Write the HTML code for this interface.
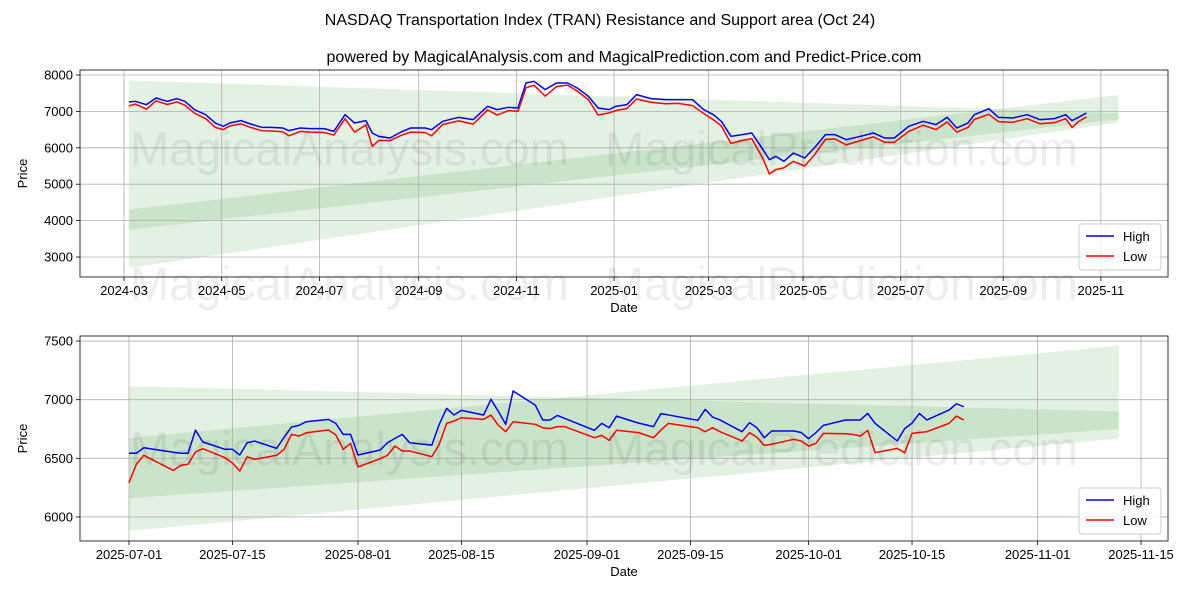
<!DOCTYPE html>
<html><head><meta charset="utf-8"><style>
body{margin:0;background:#fff;}
svg{display:block;font-family:"Liberation Sans","DejaVu Sans",sans-serif;}
</style></head><body>
<svg id="c" width="1200" height="600" viewBox="0 0 1200 600"></svg>
<script>
// ---- top chart data (days since 2024-03-01) ----
const topDays=[3,7,14,20,27,33,38,44,51,57,62,66,73,79,86,92,99,103,110,116,125,131,138,144,151,155,159,166,173,179,188,192,199,209,218,227,233,240,246,251,256,263,270,277,283,290,296,303,307,314,320,329,338,346,355,362,368,373,379,386,392,399,403,407,412,418,425,431,438,444,451,460,468,475,481,490,499,507,514,520,527,531,540,546,555,564,572,581,588,592,596,601];
const topHigh=[7258,7277,7185,7368,7277,7350,7277,7048,6910,6681,6590,6681,6746,6654,6562,6562,6544,6471,6544,6526,6526,6452,6910,6681,6746,6407,6315,6269,6434,6544,6544,6498,6727,6837,6773,7139,7048,7112,7093,7780,7826,7597,7780,7780,7643,7414,7093,7048,7139,7185,7460,7350,7322,7322,7322,7048,6910,6727,6315,6361,6407,5949,5674,5766,5629,5857,5720,5995,6361,6361,6224,6315,6407,6269,6269,6590,6727,6636,6837,6544,6681,6910,7075,6837,6819,6910,6773,6801,6910,6746,6837,6956];
const topLow=[7150,7200,7060,7290,7190,7260,7170,6950,6800,6560,6500,6600,6660,6560,6470,6460,6440,6330,6450,6430,6420,6350,6800,6430,6630,6040,6200,6200,6340,6430,6420,6330,6640,6740,6650,7040,6900,7020,7000,7650,7720,7420,7680,7720,7560,7320,6900,6960,7020,7080,7340,7250,7210,7220,7160,6940,6770,6600,6120,6200,6250,5700,5280,5400,5450,5630,5500,5800,6230,6240,6080,6200,6300,6150,6150,6450,6620,6500,6710,6430,6560,6780,6920,6720,6700,6800,6660,6690,6800,6560,6720,6850];
const topBandDays=[3,621];
const topResTop=[7850,6950], topResBot=[3750,6780];
const topSupTop=[4300,7450], topSupBot=[2700,6700];
const topYTicks=[3000,4000,5000,6000,7000,8000];
const topXTickDays=[0,61,122,184,245,306,365,424,485,549,610];
const topXTickLabels=["2024-03","2024-05","2024-07","2024-09","2024-11","2025-01","2025-03","2025-05","2025-07","2025-09","2025-11"];
// ---- bottom chart data (days since 2025-07-01) ----
const botDays=[0,1,2,6,7,8,9,10,13,14,15,16,17,20,21,22,23,24,27,28,29,30,31,34,35,36,37,38,41,42,43,44,45,48,49,50,51,52,55,56,57,58,59,63,64,65,66,69,71,72,73,77,78,79,80,83,84,85,86,87,90,91,92,93,94,97,98,99,100,101,104,105,106,107,108,111,112,113];
const botHigh=[6543,6543,6590,6552,6543,6543,6741,6639,6577,6577,6528,6633,6647,6585,6680,6767,6781,6812,6832,6798,6704,6704,6528,6571,6633,6670,6704,6633,6613,6790,6926,6869,6909,6869,7003,6900,6790,7074,6954,6827,6827,6866,6840,6739,6798,6761,6860,6800,6770,6880,6870,6824,6917,6852,6827,6727,6804,6761,6676,6733,6733,6720,6667,6720,6781,6827,6827,6827,6883,6798,6648,6753,6800,6883,6827,6911,6965,6940];
const botLow=[6292,6449,6526,6397,6440,6449,6554,6582,6505,6460,6392,6514,6491,6526,6577,6704,6690,6718,6741,6700,6577,6628,6426,6497,6526,6605,6562,6562,6514,6620,6798,6818,6846,6832,6869,6781,6727,6812,6790,6761,6753,6770,6770,6676,6696,6653,6739,6719,6676,6740,6798,6761,6727,6761,6727,6648,6719,6680,6610,6620,6662,6648,6605,6628,6713,6710,6704,6690,6739,6548,6585,6548,6713,6720,6727,6798,6860,6827];
const botBandDays=[0,134];
const botResTop=[7115,6900], botResBot=[6160,6750];
const botSupTop=[6673,7460], botSupBot=[5880,6670];
const botYTicks=[6000,6500,7000,7500];
const botXTickDays=[0,14,31,45,62,76,92,106,123,137];
const botXTickLabels=["2025-07-01","2025-07-15","2025-08-01","2025-08-15","2025-09-01","2025-09-15","2025-10-01","2025-10-15","2025-11-01","2025-11-15"];

const NS="http://www.w3.org/2000/svg";
const svg=document.getElementById('c');
function mk(tag,attrs,parent){const e=document.createElementNS(NS,tag);for(const k in attrs)e.setAttribute(k,attrs[k]);(parent||svg).appendChild(e);return e;}
function txt(s,attrs,parent){const e=mk('text',attrs,parent);e.textContent=s;return e;}

function panel(o){
  const g=mk('g',{});
  
  
  const X=d=>o.x0+(d-o.d0)/(o.d1-o.d0)*(o.x1-o.x0);
  const Y=v=>o.y1-(v-o.v0)/(o.v1-o.v0)*(o.y1-o.y0);
  function band(tops,bots,nm){
    const p=mk('polygon',{points:`${X(o.bd[0])},${Y(tops[0])} ${X(o.bd[1])},${Y(tops[1])} ${X(o.bd[1])},${Y(bots[1])} ${X(o.bd[0])},${Y(bots[0])}`,fill:'rgb(0,128,0)','fill-opacity':0.11},g);
    
    
  }
  band(o.resT,o.resB,'resistance-band');
  band(o.supT,o.supB,'support-band');
  o.yt.forEach(v=>{mk('line',{x1:o.x0,x2:o.x1,y1:Y(v),y2:Y(v),stroke:'#b0b0b0','stroke-width':0.8},g);
    const t=txt(v,{x:o.x0-7,y:Y(v)+4.5,'text-anchor':'end','font-size':13,fill:'#000'},g);
    
    
    mk('line',{x1:o.x0-4,x2:o.x0,y1:Y(v),y2:Y(v),stroke:'#000','stroke-width':0.8},g);});
  o.xt.forEach((d,i)=>{mk('line',{x1:X(d),x2:X(d),y1:o.y0,y2:o.y1,stroke:'#b0b0b0','stroke-width':0.8},g);
    mk('line',{x1:X(d),x2:X(d),y1:o.y1,y2:o.y1+4,stroke:'#000','stroke-width':0.8},g);
    const t=txt(o.xl[i],{x:X(d),y:o.y1+18,'text-anchor':'middle','font-size':13,fill:'#000'},g);
    
    });
  function line(days,vals,col,nm){
    const l=mk('polyline',{points:days.map((d,i)=>X(d)+','+Y(vals[i])).join(' '),fill:'none',stroke:col,'stroke-width':1.5,'stroke-linejoin':'round'},g);
    
    
  }
  line(o.days,o.hi,'#0000ff','high-line');
  line(o.days,o.lo,'#ff0000','low-line');
  mk('rect',{x:o.x0,y:o.y0,width:o.x1-o.x0,height:o.y1-o.y0,fill:'none',stroke:'#000','stroke-width':0.8},g);
  const xl=txt('Date',{x:(o.x0+o.x1)/2,y:o.y1+35,'text-anchor':'middle','font-size':13},g);
  
  
  const yl=txt('Price',{x:0,y:0,transform:`translate(27,${(o.y0+o.y1)/2}) rotate(-90)`,'text-anchor':'middle','font-size':13},g);
  
  
  const lg=mk('g',{},g);
  
  
  const ly=o.y1-53;
  mk('rect',{x:1079,y:ly,width:82,height:46,rx:3,fill:'#fff','fill-opacity':0.8,stroke:'#ccc'},lg);
  mk('line',{x1:1086,x2:1114,y1:ly+12,y2:ly+12,stroke:'#0000ff','stroke-width':1.5},lg);
  txt('High',{x:1123,y:ly+17,'font-size':13},lg);
  mk('line',{x1:1086,x2:1114,y1:ly+32,y2:ly+32,stroke:'#ff0000','stroke-width':1.5},lg);
  txt('Low',{x:1123,y:ly+37,'font-size':13},lg);
}
panel({name:'top-chart',x0:80,x1:1168,y0:70,y1:277,d0:-27.5,d1:651.9,v0:2451,v1:8137,
  bd:topBandDays,resT:topResTop,resB:topResBot,supT:topSupTop,supB:topSupBot,
  yt:topYTicks,xt:topXTickDays,xl:topXTickLabels,days:topDays,hi:topHigh,lo:topLow});
panel({name:'bottom-chart',x0:80,x1:1168,y0:336,y1:541,d0:-6.63,d1:140.65,v0:5795,v1:7543,
  bd:botBandDays,resT:botResTop,resB:botResBot,supT:botSupTop,supB:botSupBot,
  yt:botYTicks,xt:botXTickDays,xl:botXTickLabels,days:botDays,hi:botHigh,lo:botLow});
[[130,165],[130,300],[130,465]].forEach(p=>{const t=txt('MagicalAnalysis.com',{x:p[0],y:p[1],'font-size':47,fill:'#000','fill-opacity':0.07});});
[[605,165],[605,300],[605,465]].forEach(p=>{const t=txt('MagicalPrediction.com',{x:p[0],y:p[1],'font-size':47,fill:'#000','fill-opacity':0.07});});
const t1=txt('NASDAQ Transportation Index (TRAN) Resistance and Support area (Oct 24)',{x:600,y:25,'text-anchor':'middle','font-size':16});


const t2=txt('powered by MagicalAnalysis.com and MagicalPrediction.com and Predict-Price.com',{x:624,y:62,'text-anchor':'middle','font-size':16});


</script>
</body></html>
